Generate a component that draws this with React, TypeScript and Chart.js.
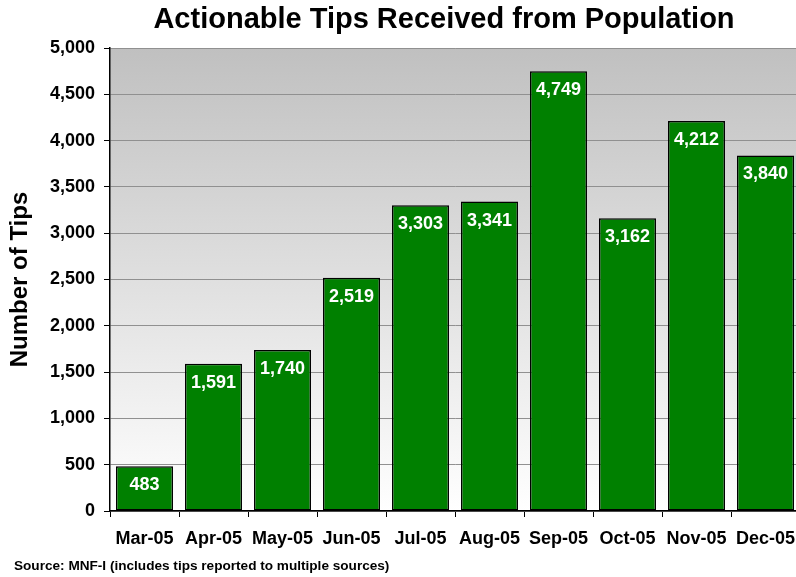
import React, { useEffect, useRef } from 'react';
import { Chart, registerables } from 'chart.js';

Chart.register(...registerables);

const categories = ['Mar-05', 'Apr-05', 'May-05', 'Jun-05', 'Jul-05', 'Aug-05', 'Sep-05', 'Oct-05', 'Nov-05', 'Dec-05'];
const tips = [483, 1591, 1740, 2519, 3303, 3341, 4749, 3162, 4212, 3840];
const chartTitle = 'Actionable Tips Received from Population';
const yAxisTitle = 'Number of Tips';
const sourceNote = 'Source: MNF-I (includes tips reported to multiple sources)';
const yMin = 0;
const yMax = 5000;
const yStep = 500;

const FONT = '"Liberation Sans", Arial, sans-serif';
const W = 888;
const H = 577;

const fmt = (v: number) => v.toLocaleString('en-US');

export default function App() {
  const ref = useRef<HTMLCanvasElement | null>(null);

  useEffect(() => {
    document.body.style.margin = '0';
    document.body.style.overflow = 'hidden';
    const canvas = ref.current;
    if (!canvas) return;

    const bgPlugin = {
      id: 'bgPlugin',
      beforeDraw(chart: any) {
        const { ctx, chartArea } = chart;
        ctx.save();
        ctx.fillStyle = '#ffffff';
        ctx.fillRect(0, 0, chart.width, chart.height);
        const g = ctx.createLinearGradient(0, chartArea.top, 0, chartArea.bottom);
        g.addColorStop(0, '#c0c0c0');
        g.addColorStop(1, '#ffffff');
        ctx.fillStyle = g;
        ctx.fillRect(chartArea.left, chartArea.top, chartArea.right - chartArea.left, chartArea.bottom - chartArea.top);
        ctx.restore();
      },
    };

    const valuePlugin = {
      id: 'valuePlugin',
      afterDatasetsDraw(chart: any) {
        const { ctx } = chart;
        const meta = chart.getDatasetMeta(0);
        ctx.save();
        ctx.fillStyle = '#ffffff';
        ctx.font = `bold 18px ${FONT}`;
        ctx.textAlign = 'center';
        ctx.textBaseline = 'middle';
        meta.data.forEach((el: any, i: number) => {
          ctx.fillText(fmt(tips[i]), el.x, el.y + 19);
        });
        ctx.restore();
      },
    };

    const textPlugin = {
      id: 'textPlugin',
      afterDraw(chart: any) {
        const { ctx } = chart;
        ctx.save();
        ctx.fillStyle = '#000000';
        ctx.textBaseline = 'middle';
        ctx.font = `bold 29px ${FONT}`;
        ctx.textAlign = 'center';
        ctx.fillText(chartTitle, chart.width / 2, 20);
        ctx.font = `bold 13.6px ${FONT}`;
        ctx.textAlign = 'left';
        ctx.fillText(sourceNote, 14, chart.height - 11);
        ctx.restore();
      },
    };

    const chart = new Chart(canvas, {
      type: 'bar',
      data: {
        labels: categories,
        datasets: [
          {
            data: tips,
            backgroundColor: '#008000',
            borderColor: '#000000',
            borderWidth: 1.5,
            borderSkipped: false,
            barPercentage: 0.826,
            categoryPercentage: 1,
          },
        ],
      },
      options: {
        responsive: false,
        animation: false,
        layout: { padding: { left: 0, right: 88, top: 48, bottom: 22 } },
        plugins: {
          legend: { display: false },
          tooltip: { enabled: false },
          title: { display: false },
        },
        scales: {
          x: {
            grid: {
              display: true,
              drawOnChartArea: false,
              drawTicks: true,
              tickLength: 6,
              tickColor: '#000000',
              offset: true,
            },
            border: { display: true, color: '#000000', width: 1.5 },
            ticks: {
              color: '#000000',
              font: { family: FONT, size: 18, weight: 'bold' },
              padding: 11,
              maxRotation: 0,
              autoSkip: false,
            },
            afterFit(scale: any) {
              scale.height = 44;
            },
          },
          y: {
            min: yMin,
            max: yMax,
            grid: {
              color: '#909090',
              lineWidth: 1,
              tickLength: 6,
              tickColor: '#000000',
            },
            border: { display: true, color: '#000000', width: 1.5 },
            ticks: {
              stepSize: yStep,
              color: '#000000',
              font: { family: FONT, size: 18, weight: 'bold' },
              padding: 9,
              callback: (v: any) => fmt(Number(v)),
            },
            title: {
              display: true,
              text: yAxisTitle,
              color: '#000000',
              font: { family: FONT, size: 24, weight: 'bold', lineHeight: 1.2 },
              padding: { top: 6, bottom: 0 },
            },
            afterFit(scale: any) {
              scale.width = 110;
            },
          },
        },
      },
      plugins: [bgPlugin, valuePlugin, textPlugin],
    } as any);

    return () => chart.destroy();
  }, []);

  return (
    <div style={{ width: W, height: H, overflow: 'hidden' }}>
      <canvas ref={ref} width={W} height={H} style={{ display: 'block', width: W, height: H }} />
    </div>
  );
}
